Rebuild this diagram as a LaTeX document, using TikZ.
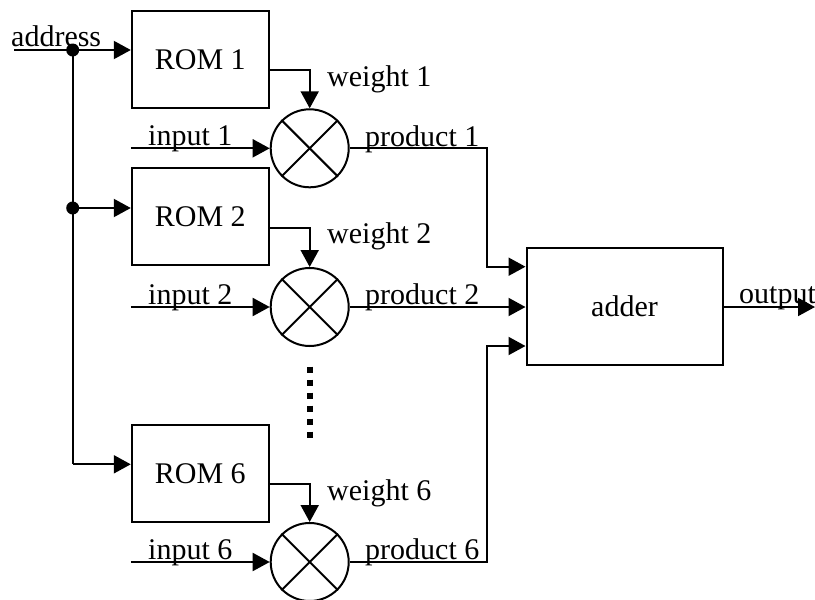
\documentclass[tikz,border=0pt]{standalone}
\usepackage{fontspec}
\setmainfont{Liberation Serif}
\usetikzlibrary{arrows.meta}
\begin{document}
\begin{tikzpicture}[x=1pt,y=-1pt,
  every node/.style={font=\fontsize{30}{34}\selectfont},
  rombox/.style={draw,line width=2pt,minimum width=137pt,minimum height=97pt,inner sep=0pt},
  mult/.style={draw,circle,line width=2pt,minimum size=78pt,inner sep=0pt},
  wire/.style={line width=2pt},
  arr/.style={wire,-{Triangle[length=17pt,width=18pt]}},
  lbl/.style={anchor=base west,inner sep=0pt},
  junc/.style={fill,circle,inner sep=0pt,minimum size=13pt},
  dotsline/.style={line width=6pt,dash pattern=on 6pt off 7pt}]
\useasboundingbox (0,0) rectangle (815,600);
% ROMs
\node[rombox] (rom1) at (200.3,59.3) {ROM 1};
\node[rombox] (rom2) at (200.3,216.7) {ROM 2};
\node[rombox] (rom6) at (200.3,473.7) {ROM 6};
% multipliers
\node[mult] (m1) at (309.7,148.3) {};
\node[mult] (m2) at (309.7,307) {};
\node[mult] (m6) at (309.7,562) {};
\foreach \n in {1,2,6}{
  \draw[wire] (m\n.north west) -- (m\n.south east);
  \draw[wire] (m\n.north east) -- (m\n.south west);
}
% adder
\node[draw,line width=2pt,minimum width=196pt,minimum height=117pt,inner sep=0pt] (adder) at (624.5,306) {adder};
% address bus
\coordinate (addr) at (14,50);
\coordinate (j1) at (72.7,50);
\coordinate (j2) at (72.7,208);
\coordinate (j6) at (72.7,464.3);
\draw[arr] (addr) -- (addr -| rom1.west);
\draw[wire] (j1) -- (j6);
\draw[arr] (j2) -- (j2 -| rom2.west);
\draw[arr] (j6) -- (j6 -| rom6.west);
\node[junc] at (j1) {};
\node[junc] at (j2) {};
\node[lbl] at (11,46.7) {address};
% weights
\coordinate (w1) at (309.7,70);
\coordinate (w2) at (309.7,228.3);
\coordinate (w6) at (309.7,484.3);
\foreach \n in {1,2,6}{
  \draw[arr] (w\n -| rom\n.east) -- (w\n) -- (m\n.north);
}
\node[lbl] at (327,86) {weight 1};
\node[lbl] at (327,243.5) {weight 2};
\node[lbl] at (327,500) {weight 6};
% inputs
\foreach \n in {1,2,6}{
  \draw[arr] (m\n.center -| rom1.west) -- (m\n.west);
}
\node[lbl] at (148,145.5) {input 1};
\node[lbl] at (148,304) {input 2};
\node[lbl] at (148,559) {input 6};
% products
\coordinate (b1) at (487,148.3);
\coordinate (b6) at (487,562);
\coordinate (a1) at (487,266.7);
\coordinate (a6) at (487,346);
\draw[arr] (m1.east) -- (b1) -- (a1) -- (a1 -| adder.west);
\draw[arr] (m2.east) -- (m2.east -| adder.west);
\draw[arr] (m6.east) -- (b6) -- (a6) -- (a6 -| adder.west);
\node[lbl] at (365,146) {product 1};
\node[lbl] at (365,304.5) {product 2};
\node[lbl] at (365,559) {product 6};
% output
\coordinate (out) at (815,307);
\draw[arr] (adder.east |- out) -- (out);
\node[lbl] at (739,303) {output};
% ellipsis
\coordinate (d1) at (309.5,366.7);
\coordinate (d2) at (309.5,438.3);
\draw[dotsline] (d1) -- (d2);
\end{tikzpicture}
\end{document}
